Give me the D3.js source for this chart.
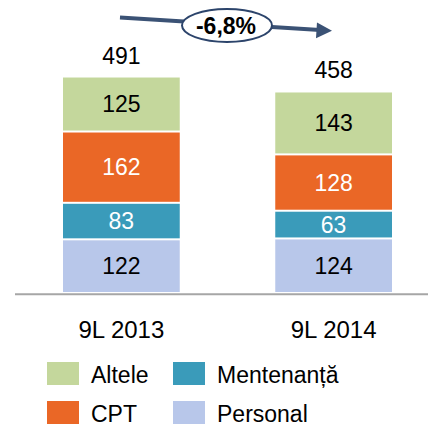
<!DOCTYPE html>
<html>
<head>
<meta charset="utf-8">
<script src="https://cdn.jsdelivr.net/npm/d3@7"></script>
<style>
  body { margin: 0; background: #fff; }
  svg { display: block; font-family: "Liberation Sans", Arial, sans-serif; }
</style>
</head>
<body>
<svg width="428" height="426"></svg>
<script>
// categories and series (stacked bottom -> top)
var periods = ["9L 2013", "9L 2014"];
var personal = [122, 124];
var mentenanta = [83, 63];
var cpt = [162, 128];
var altele = [125, 143];
// totals as printed in the chart (rounded source figures)
var totals = [491, 458];
var changeLabel = "-6,8%";

var seriesNames = ["Personal", "Mentenanță", "CPT", "Altele"];
var seriesColors = ["#b8c7ea", "#3a9bba", "#ea6726", "#c4d79c"];
var labelColors = ["#000", "#fff", "#fff", "#000"];

var width = 428;
var height = 426;

var svg = d3.select("svg");
var g = svg.append("g");

// build rows for d3.stack
var rows = periods.map(function(p, i) {
    return {period: p, "Personal": personal[i], "Mentenanță": mentenanta[i], "CPT": cpt[i], "Altele": altele[i]};
});
var stacked = d3.stack().keys(seriesNames)(rows);
var stackTops = stacked[stacked.length - 1].map(function(d) { return d[1]; });

var x = d3.scaleBand()
    .domain(periods)
    .range([63, 392])
    .paddingInner(0.45)
    .paddingOuter(0);

var y = d3.scaleLinear()
    .domain([0, 500])
    .range([293, 73]);

// bars
var layers = g.selectAll("g.layer")
    .data(stacked)
    .enter().append("g")
    .attr("class", "layer");

layers.selectAll("rect")
    .data(function(d) { return d; })
    .enter().append("rect")
    .attr("x", function(d) { return x(d.data.period); })
    .attr("width", x.bandwidth())
    .attr("y", function(d) { return y(d[1]) + 1; })
    .attr("height", function(d) { return y(d[0]) - y(d[1]) - 2; })
    .style("fill", function(d) { return seriesColors[seriesNames.indexOf(d3.select(this.parentNode).datum().key)]; });

// segment labels
layers.each(function(layer, li) {
    d3.select(this).selectAll("text")
        .data(layer)
        .enter().append("text")
        .attr("x", function(d) { return x(d.data.period) + x.bandwidth() / 2; })
        .attr("y", function(d) { return (y(d[0]) + y(d[1])) / 2; })
        .attr("dy", "0.36em")
        .attr("text-anchor", "middle")
        .style("font-size", "23px")
        .style("fill", labelColors[li])
        .text(function(d) { return d[1] - d[0]; });
});

// totals
g.selectAll("text.total")
    .data(totals)
    .enter().append("text")
    .attr("class", "total")
    .attr("x", function(d, i) { return x(periods[i]) + x.bandwidth() / 2; })
    .attr("y", function(d, i) { return y(stackTops[i]) - 13; })
    .attr("text-anchor", "middle")
    .style("font-size", "23px")
    .text(function(d) { return d; });

// baseline
g.append("line")
    .attr("x1", 15).attr("x2", width)
    .attr("y1", 294.3).attr("y2", 294.3)
    .style("stroke", "#a6a6a6")
    .style("stroke-width", 2);

// category labels
g.selectAll("text.cat")
    .data(periods)
    .enter().append("text")
    .attr("class", "cat")
    .attr("x", function(d) { return x(d) + x.bandwidth() / 2; })
    .attr("y", 338)
    .attr("text-anchor", "middle")
    .style("font-size", "24px")
    .text(function(d) { return d; });

// change arrow
var arrowColor = "#3b5275";
g.append("line")
    .attr("x1", 120).attr("y1", 17.6)
    .attr("x2", 320).attr("y2", 29.9)
    .style("stroke", arrowColor)
    .style("stroke-width", 4);
g.append("polygon")
    .attr("points", "317,22.5 332,30.8 316,38.2")
    .style("fill", arrowColor);
g.append("ellipse")
    .attr("cx", 227).attr("cy", 25.5)
    .attr("rx", 45).attr("ry", 16.5)
    .style("fill", "#fff")
    .style("stroke", "#2c446b")
    .style("stroke-width", 2);
g.append("text")
    .attr("x", 226).attr("y", 25.5)
    .attr("dy", "0.36em")
    .attr("text-anchor", "middle")
    .style("font-size", "23px")
    .style("font-weight", "bold")
    .text(changeLabel);

// legend (2 x 2: Altele, CPT | Mentenanță, Personal)
var legendOrder = ["Altele", "CPT", "Mentenanță", "Personal"];
var legend = g.selectAll("g.legend")
    .data(legendOrder)
    .enter().append("g")
    .attr("class", "legend")
    .attr("transform", function(d, i) {
        var col = Math.floor(i / 2), row = i % 2;
        return "translate(" + (47 + col * 126) + "," + (362 + row * 39) + ")";
    });

legend.append("rect")
    .attr("width", 32)
    .attr("height", 23)
    .style("fill", function(d) { return seriesColors[seriesNames.indexOf(d)]; });

legend.append("text")
    .attr("x", 44)
    .attr("y", 20.5)
    .style("font-size", "23px")
    .text(function(d) { return d; });
</script>
</body>
</html>
